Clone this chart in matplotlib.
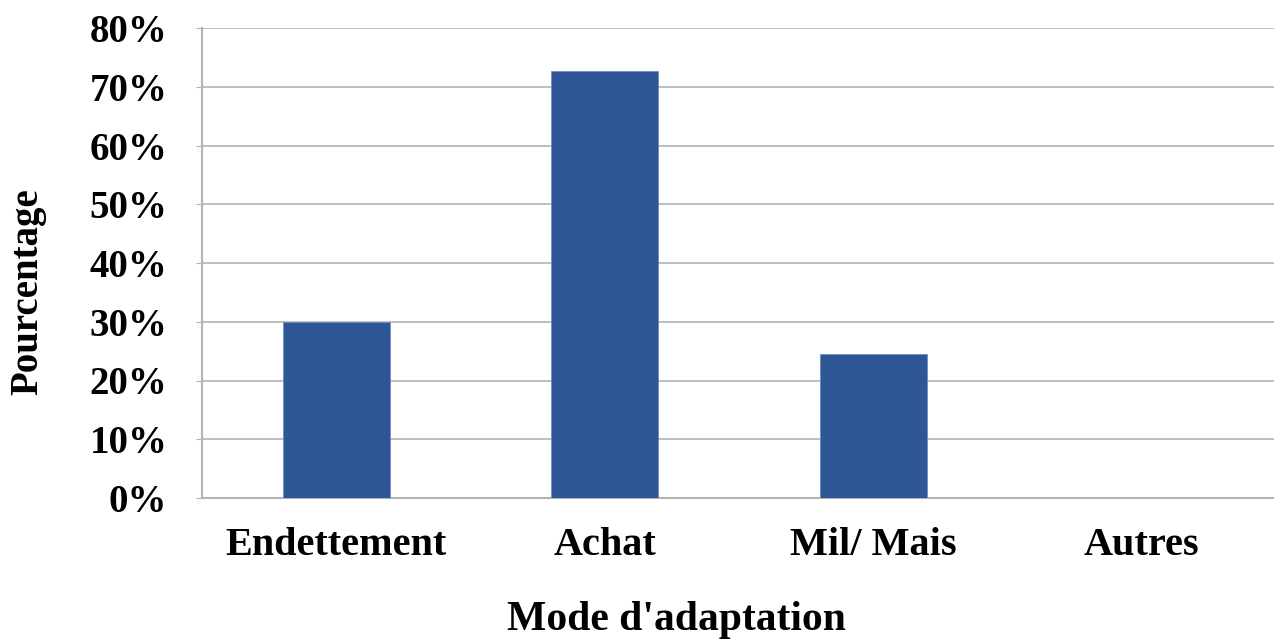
import matplotlib
matplotlib.use("Agg")
import matplotlib.pyplot as plt
from matplotlib.ticker import PercentFormatter

categories = ["Endettement", "Achat", "Mil/ Mais", "Autres"]
values = [30.0, 72.6, 24.5, 0.0]
yticks = [0, 10, 20, 30, 40, 50, 60, 70, 80]

plt.rcParams["font.family"] = ["Liberation Serif", "DejaVu Serif"]
plt.rcParams["font.weight"] = "bold"

fig = plt.figure(figsize=(12.74, 6.39), dpi=100)
ax_w = 1074
ax = fig.add_axes([202 / 1274, 1 - 498 / 639, ax_w / 1274, 470 / 639])

x = range(len(categories))
ax.bar(x, values, width=0.4, color="#2E5594", edgecolor="#6F8FC0", linewidth=0.6, zorder=3)

ax.set_xlim(-0.5, len(categories) - 0.5)
ax.set_ylim(0, 80)
ax.set_yticks(yticks)
ax.yaxis.set_major_formatter(PercentFormatter(decimals=0))
ax.set_xticks(list(x))
ax.set_xticklabels(categories)

ax.grid(axis="y", color="#B3B3B3", linewidth=1.2, zorder=0)
for side in ["top", "right"]:
    ax.spines[side].set_visible(False)
for side in ["left", "bottom"]:
    ax.spines[side].set_color("#B3B3B3")
    ax.spines[side].set_linewidth(1.5)

ax.tick_params(axis="y", length=4, color="#B3B3B3", labelsize=28, pad=21)
ax.tick_params(axis="x", length=0, labelsize=29, pad=21)
for lbl in ax.get_xticklabels() + ax.get_yticklabels():
    lbl.set_fontweight("bold")

ax.set_ylabel("Pourcentage", fontsize=28, fontweight="bold")
ax.yaxis.set_label_coords((28 - 202) / ax_w, (498 - 292) / 470)
ax.yaxis.label.set_verticalalignment("center")

ax.set_xlabel("Mode d'adaptation", fontsize=30, fontweight="bold")
ax.xaxis.set_label_coords((676 - 202) / ax_w, (498 - 620) / 470)
ax.xaxis.label.set_verticalalignment("center")

fig.savefig("out.png", dpi=100)
